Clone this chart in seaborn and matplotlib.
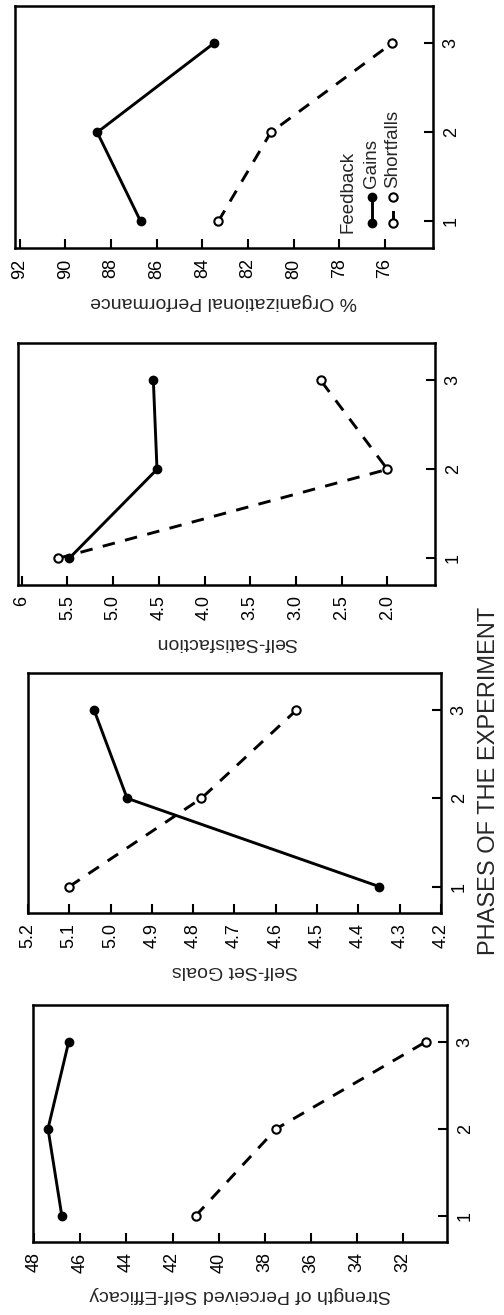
import matplotlib
matplotlib.use('Agg')
import matplotlib.pyplot as plt
import seaborn as sns
from matplotlib.lines import Line2D

# phases of the experiment
phases = [1, 2, 3]
phase_labels = ['1', '2', '3']

# values (gains = solid/filled, shortfalls = dashed/open)
performance_gains = [86.7, 88.6, 83.5]
performance_shortfalls = [83.3, 81.0, 75.7]
satisfaction_gains = [5.48, 4.52, 4.56]
satisfaction_shortfalls = [5.60, 2.0, 2.73]
goals_gains = [4.35, 4.96, 5.04]
goals_shortfalls = [5.10, 4.78, 4.55]
efficacy_gains = [46.8, 47.4, 46.5]
efficacy_shortfalls = [41.0, 37.5, 31.0]

performance_ticks = [92, 90, 88, 86, 84, 82, 80, 78, 76]
performance_ticklabels = ['92', '90', '88', '86', '84', '82', '80', '78', '76']
satisfaction_ticks = [6, 5.5, 5.0, 4.5, 4.0, 3.5, 3.0, 2.5, 2.0]
satisfaction_ticklabels = ['6', '5.5', '5.0', '4.5', '4.0', '3.5', '3.0', '2.5', '2.0']
goals_ticks = [5.2, 5.1, 5.0, 4.9, 4.8, 4.7, 4.6, 4.5, 4.4, 4.3, 4.2]
goals_ticklabels = ['5.2', '5.1', '5.0', '4.9', '4.8', '4.7', '4.6', '4.5', '4.4', '4.3', '4.2']
efficacy_ticks = [48, 46, 44, 42, 40, 38, 36, 34, 32]
efficacy_ticklabels = ['48', '46', '44', '42', '40', '38', '36', '34', '32']

sns.set_style('ticks')
plt.rcParams['font.family'] = ['Liberation Sans', 'DejaVu Sans']

W, H = 504, 1315
fig = plt.figure(figsize=(W / 100, H / 100), dpi=100)

DASH = (0, (4.3, 3.6))


def px_axes(left, top, right, bottom):
    return fig.add_axes([left / W, 1 - bottom / H, (right - left) / W, (bottom - top) / H])


def draw_panel(ax, gains, shortfalls, ticks, ticklabels, xlim, label):
    sns.lineplot(x=gains, y=phases, orient='y', ax=ax, errorbar=None,
                 color='black', lw=2.1, marker='o', markersize=6,
                 markerfacecolor='black', markeredgecolor='black', markeredgewidth=1)
    sns.lineplot(x=shortfalls, y=phases, orient='y', ax=ax, errorbar=None,
                 color='black', lw=2.1, linestyle=DASH, marker='o', markersize=6,
                 markerfacecolor='white', markeredgecolor='black', markeredgewidth=1.5)
    ax.set_xlim(xlim)
    ax.set_ylim(0.7, 3.42)
    ax.set_xticks(ticks)
    ax.set_xticklabels(ticklabels, rotation=90)
    ax.set_yticks(phases)
    ax.set_yticklabels(phase_labels, rotation=90, va='center')
    ax.yaxis.tick_right()
    ax.tick_params(axis='both', direction='in', length=6.5, width=1.5,
                   labelsize=13, color='black', labelcolor='black')
    ax.tick_params(axis='x', pad=7.5)
    ax.tick_params(axis='y', pad=7)
    ax.set_xlabel(label, rotation=180, fontsize=14, labelpad=10)
    ax.set_ylabel('')
    for s in ax.spines.values():
        s.set_visible(True)
        s.set_linewidth(1.8)
        s.set_color('black')


ax_perf = px_axes(15, 6, 433, 248)
ax_sat = px_axes(18, 343, 435, 585)
ax_goal = px_axes(28, 673, 441, 913)
ax_eff = px_axes(33, 1005, 447, 1242)

draw_panel(ax_perf, performance_gains, performance_shortfalls, performance_ticks,
           performance_ticklabels, (92.2, 73.9), '% Organizational Performance')
draw_panel(ax_sat, satisfaction_gains, satisfaction_shortfalls, satisfaction_ticks,
           satisfaction_ticklabels, (6.04, 1.48), 'Self-Satisfaction')
draw_panel(ax_goal, goals_gains, goals_shortfalls, goals_ticks,
           goals_ticklabels, (5.2, 4.2), 'Self-Set Goals')
draw_panel(ax_eff, efficacy_gains, efficacy_shortfalls, efficacy_ticks,
           efficacy_ticklabels, (48.05, 30.1), 'Strength of Perceived Self-Efficacy')

# rotated legend inside the performance panel
ax_perf.text(0.797, 0.062, 'Feedback', transform=ax_perf.transAxes, rotation=90,
             ha='center', va='bottom', fontsize=13.5)
ax_perf.add_line(Line2D([0.854, 0.854], [0.103, 0.21], transform=ax_perf.transAxes,
                        color='black', lw=2.1, marker='o', markersize=6,
                        markerfacecolor='black', markeredgecolor='black'))
ax_perf.text(0.854, 0.25, 'Gains', transform=ax_perf.transAxes, rotation=90,
             ha='center', va='bottom', fontsize=13.5)
ax_perf.add_line(Line2D([0.904, 0.904], [0.103, 0.21], transform=ax_perf.transAxes,
                        color='black', lw=2.1, linestyle=DASH, marker='o', markersize=6,
                        markerfacecolor='white', markeredgecolor='black',
                        markeredgewidth=1.5))
ax_perf.text(0.904, 0.25, 'Shortfalls', transform=ax_perf.transAxes, rotation=90,
             ha='center', va='bottom', fontsize=13.5)

fig.text(489 / W, 1 - 955 / H, 'PHASES OF THE EXPERIMENT', rotation=90,
         ha='center', va='bottom', fontsize=17)

fig.savefig('out.png', dpi=100)
